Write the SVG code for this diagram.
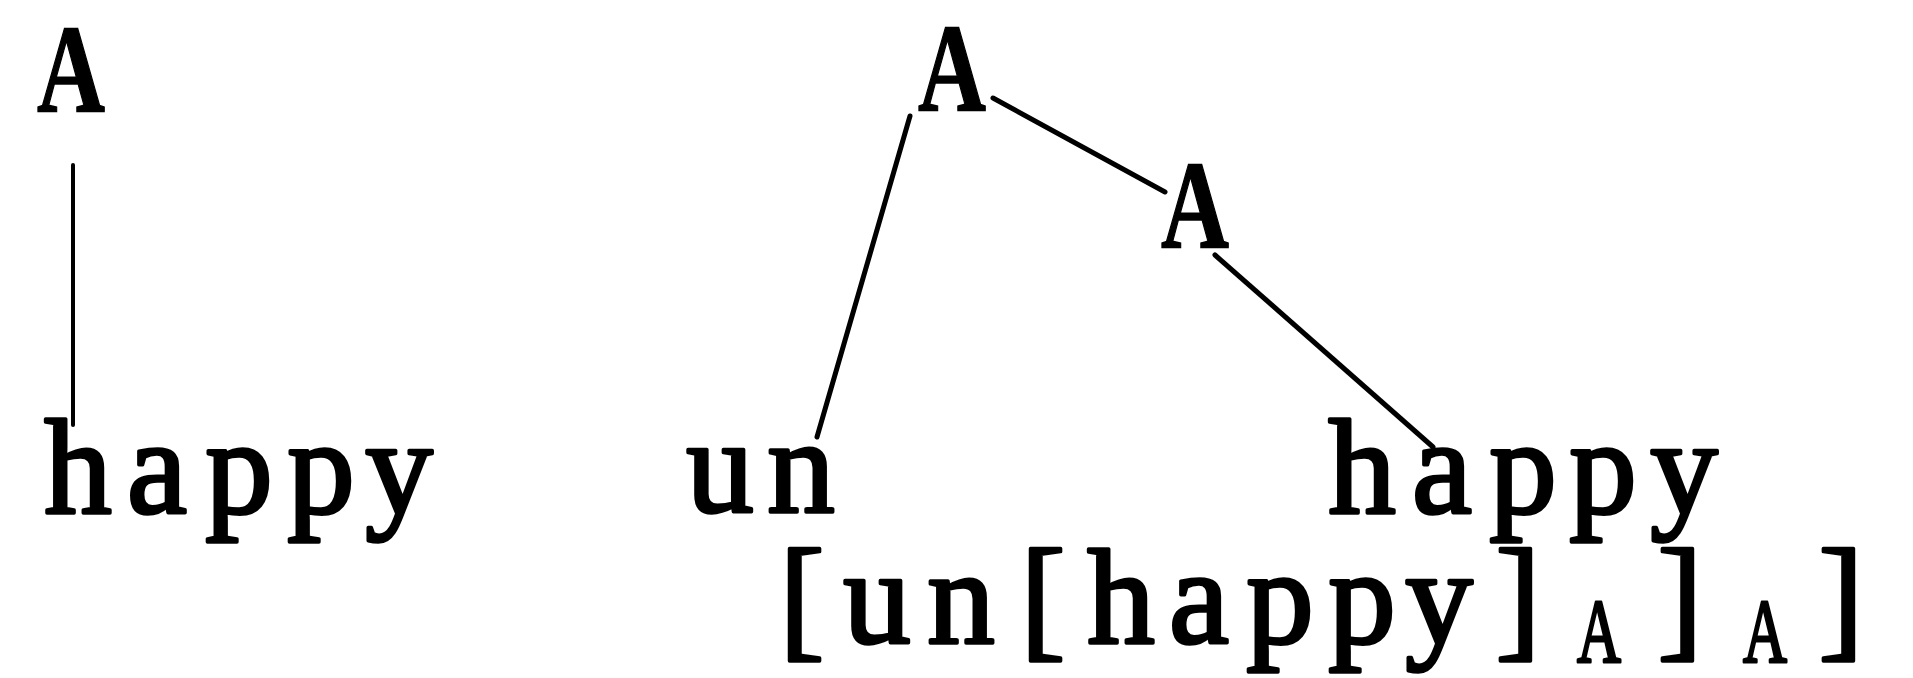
<svg xmlns="http://www.w3.org/2000/svg" width="1913" height="678" viewBox="0 0 1913 678">
<style>
.t{font-family:"Liberation Serif","Times New Roman",serif;fill:#000;stroke:#000;text-anchor:middle}
.w{font-size:135px;font-weight:normal;stroke-width:3.5;stroke-linejoin:round}
.cat{font-size:124px;font-weight:bold;stroke-width:1.5}
.sub{font-size:92px;font-weight:normal;stroke-width:3;stroke-linejoin:round}
.edge{stroke:#000;stroke-width:5;stroke-linecap:round;fill:none}
</style>
<rect width="1913" height="678" fill="#fff"/>
<g id="connectors">
<line class="edge" x1="73" y1="165" x2="73" y2="425" style="stroke-width:4"/>
<line class="edge" x1="910" y1="116" x2="817" y2="437"/>
<line class="edge" x1="993" y1="98" x2="1165" y2="192"/>
<line class="edge" x1="1215" y1="255" x2="1433" y2="447"/>
</g>
<g id="left-A"><text class="t cat" x="71" y="111" textLength="68" lengthAdjust="spacingAndGlyphs">A</text></g>
<g id="left-happy"><text class="t w" x="78 157 239 321 399" y="513">happy</text></g>
<g id="top-A"><text class="t cat" x="952" y="110" textLength="68" lengthAdjust="spacingAndGlyphs">A</text></g>
<g id="mid-A"><text class="t cat" x="1195" y="247" textLength="68" lengthAdjust="spacingAndGlyphs">A</text></g>
<g id="un"><text class="t w" x="720 801" y="512">un</text></g>
<g id="right-happy"><text class="t w" x="1362 1442 1523 1603 1684" y="513">happy</text></g>
<g id="bracketing">
<text class="t w" x="802 877 961 1043 1121 1199 1280 1362 1439 1518" y="643">[un[happy]</text>
<text class="t sub" x="1599" y="662" textLength="44" lengthAdjust="spacingAndGlyphs">A</text>
<text class="t w" x="1680" y="643">]</text>
<text class="t sub" x="1765" y="662" textLength="44" lengthAdjust="spacingAndGlyphs">A</text>
<text class="t w" x="1841" y="643">]</text>
</g>
</svg>
